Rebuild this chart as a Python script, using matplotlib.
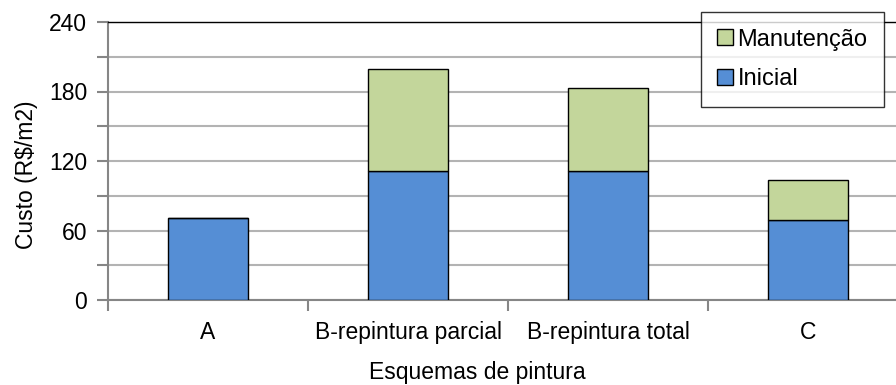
import matplotlib.pyplot as plt
import numpy as np

# Custos por esquema de pintura
esquemas = ["A", "B-repintura parcial", "B-repintura total", "C"]
inicial = [71, 111, 111, 69]
manutencao = [0, 88, 72, 35]

cor_inicial = "#558ED5"
cor_manut = "#C3D69B"
cinza = "#B3B3B3"

plt.rcParams["font.family"] = ["Liberation Sans", "DejaVu Sans"]
fs = 16.5

fig = plt.figure(figsize=(8.96, 3.85), dpi=100)
ax = fig.add_axes([108 / 896, 85 / 385, 800 / 896, 278 / 385])

x = np.arange(len(esquemas))
ax.bar(x, inicial, width=0.4, color=cor_inicial, edgecolor="black", linewidth=1,
       label="Inicial", zorder=3)
ax.bar(x, manutencao, width=0.4, bottom=inicial, color=cor_manut, edgecolor="black",
       linewidth=1, label="Manutenção", zorder=3)

ax.set_xlim(-0.5, len(esquemas) - 0.5)
ax.set_ylim(0, 240)
ax.set_yticks(np.arange(0, 241, 60))
ax.set_yticks(np.arange(30, 241, 60), minor=True)
ax.set_xticks(x)
ax.set_xticklabels(esquemas, fontsize=fs)
ax.set_xticks(np.arange(-0.5, len(esquemas), 1.0), minor=True)
ax.tick_params(axis="x", which="major", length=0, pad=15)
ax.tick_params(axis="x", which="minor", length=8, width=1.5, color="#868686")
ax.tick_params(axis="y", which="both", length=8, width=1.5, color="#868686",
               labelsize=fs, pad=7)

ax.grid(axis="y", which="both", color=cinza, linewidth=1.5, zorder=0)
ax.set_axisbelow(True)

for lado in ["left", "bottom"]:
    ax.spines[lado].set_color("#868686")
    ax.spines[lado].set_linewidth(1.5)
ax.spines["top"].set_color("black")
ax.spines["top"].set_linewidth(1)
ax.spines["right"].set_visible(False)

ax.set_ylabel("Custo (R$/m2)", fontsize=fs)
ax.set_xlabel("Esquemas de pintura", fontsize=fs)
ax.yaxis.set_label_coords(-0.087, 0.45)
ax.xaxis.set_label_coords(0.462, -0.22)

handles, labels = ax.get_legend_handles_labels()
leg = ax.legend(handles[::-1], labels[::-1], loc="upper right",
                bbox_to_anchor=(884 / 896, 1 - 12 / 385), bbox_transform=fig.transFigure,
                fontsize=17, frameon=True, fancybox=False, edgecolor="black",
                handlelength=0.65, handleheight=0.65, handletextpad=0.2,
                borderpad=0.7, labelspacing=0.75, borderaxespad=0)
leg.get_frame().set_linewidth(1)
leg.set_zorder(5)

fig.savefig("out.png", dpi=100)
